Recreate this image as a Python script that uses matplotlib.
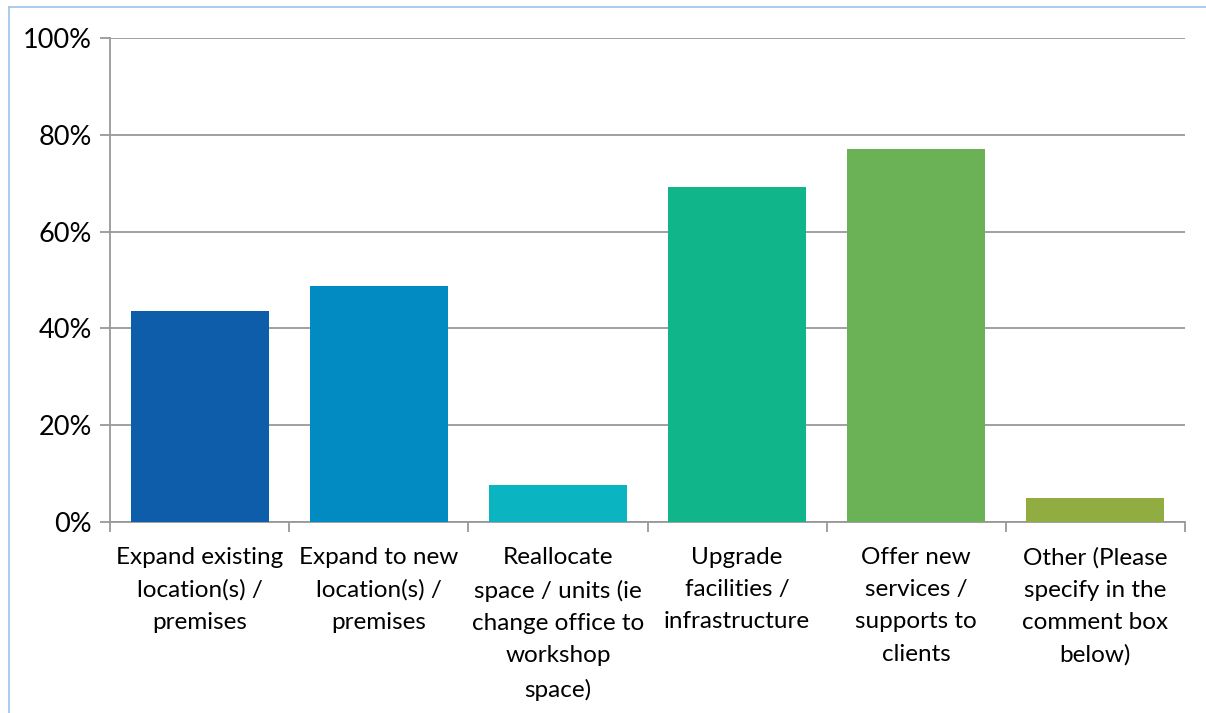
import numpy as np
import matplotlib.pyplot as plt
from matplotlib.lines import Line2D
from matplotlib.ticker import FuncFormatter, MultipleLocator

# data
categories = [
    "Expand existing\nlocation(s) /\npremises",
    "Expand to new\nlocation(s) /\npremises",
    "Reallocate\nspace / units (ie\nchange office to\nworkshop\nspace)",
    "Upgrade\nfacilities /\ninfrastructure",
    "Offer new\nservices /\nsupports to\nclients",
    "Other (Please\nspecify in the\ncomment box\nbelow)",
]
values = [43.6, 48.8, 7.6, 69.2, 77.1, 5.0]
bar_colors = ["#0E5DAA", "#028AC2", "#0AB5C1", "#11B58A", "#6BB156", "#91AD41"]

plt.rcParams['font.family'] = ['Lato', 'DejaVu Sans']

fig = plt.figure(figsize=(12.06, 7.13), dpi=100)
ax = fig.add_axes([110 / 1206, 1 - 522 / 713, (1185 - 110) / 1206, (522 - 38) / 713])

x = np.arange(len(categories))
ax.bar(x, values, width=0.77, color=bar_colors, zorder=3)

ax.set_xlim(-0.5, len(categories) - 0.5)
ax.set_ylim(0, 100)
ax.yaxis.set_major_locator(MultipleLocator(20))
ax.yaxis.set_major_formatter(FuncFormatter(lambda v, p: f"{int(v)}%"))
ax.grid(axis='y', color='#999999', linewidth=1.3, zorder=0)

for s in ['top', 'right']:
    ax.spines[s].set_visible(False)
for s in ['left', 'bottom']:
    ax.spines[s].set_color('#999999')
    ax.spines[s].set_linewidth(1.3)

# category labels between tick marks at boundaries
ax.set_xticks(x)
ax.set_xticklabels(categories, fontsize=17.5, linespacing=1.66)
ax.tick_params(axis='x', length=0, pad=18)
ax.set_xticks(np.arange(-0.5, len(categories)), minor=True)
ax.tick_params(axis='x', which='minor', length=7, color='#999999', width=1.3)
ax.tick_params(axis='y', length=7, color='#999999', width=1.3, labelsize=19.5, pad=6)

# outer frame (light blue), clipped by the image edges
fig.add_artist(Line2D([9 / 1206, 9 / 1206], [0, 1 - 7 / 713], color='#9DC3EA', lw=1.2))
fig.add_artist(Line2D([9 / 1206, 1], [1 - 7 / 713, 1 - 7 / 713], color='#9DC3EA', lw=1.2))

fig.savefig('out.png', dpi=100)
